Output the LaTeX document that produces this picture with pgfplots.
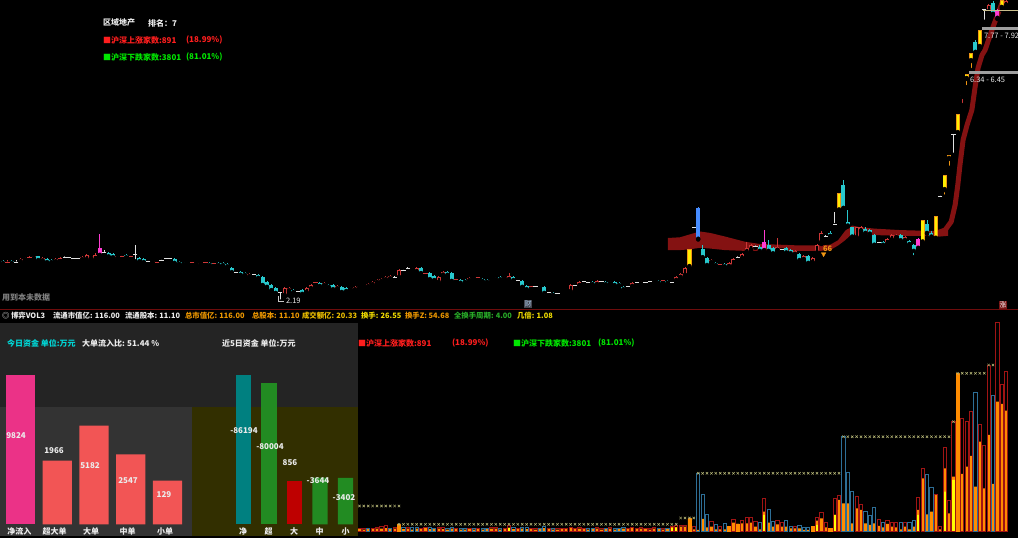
\documentclass[border=0pt]{standalone}
\usepackage{fontspec}
\setmainfont{Noto Sans CJK SC}
\usepackage{pgfplots}
\usepackage{pgfplotstable}
\pgfplotsset{compat=1.18}
\usetikzlibrary{decorations.markings}

\definecolor{cyc}{RGB}{40,200,205}
\definecolor{upr}{RGB}{205,55,55}
\definecolor{dojw}{RGB}{225,225,225}
\definecolor{ylw}{RGB}{255,238,0}
\definecolor{org}{RGB}{240,150,20}
\definecolor{pnk}{RGB}{255,60,210}
\definecolor{blu}{RGB}{70,140,255}
\definecolor{rib}{RGB}{132,18,18}
\definecolor{sep}{RGB}{110,12,12}
\definecolor{volo}{RGB}{255,140,0}
\definecolor{voly}{RGB}{255,255,0}
\definecolor{volr}{RGB}{160,20,20}
\definecolor{volb}{RGB}{45,110,150}
\definecolor{xmk}{RGB}{185,185,120}
\definecolor{pA}{RGB}{36,36,36}
\definecolor{pB}{RGB}{51,51,51}
\definecolor{pC}{RGB}{50,47,0}
\definecolor{barpk}{RGB}{235,50,135}
\definecolor{barsl}{RGB}{242,85,85}
\definecolor{teal5}{RGB}{0,128,128}
\definecolor{grn5}{RGB}{34,139,34}
\definecolor{red5}{RGB}{190,0,0}
\definecolor{lgr}{RGB}{255,30,30}
\definecolor{lgg}{RGB}{0,230,0}
\definecolor{ttc}{RGB}{0,215,215}
\definecolor{txw}{RGB}{235,235,235}
\definecolor{txg}{RGB}{200,200,200}
\definecolor{ior}{RGB}{235,150,0}
\definecolor{iyo}{RGB}{235,190,0}
\definecolor{iyl}{RGB}{240,220,0}
\definecolor{igr}{RGB}{40,170,40}
\definecolor{caibg}{RGB}{70,70,80}
\definecolor{caitx}{RGB}{170,205,235}
\definecolor{zhbg}{RGB}{120,20,20}
\definecolor{beig}{RGB}{200,190,140}

\pgfplotstableread{
i t o h l c
0 1 2.64 2.655 2.61 2.62
1 6 2.63 2.65 2.61 2.63
2 1 2.64 2.65 2.61 2.62
3 2 2.63 2.65 2.61 2.63
4 0 2.63 2.68 2.62 2.67
5 0 2.655 2.69 2.64 2.68
6 6 2.68 2.70 2.66 2.68
7 0 2.67 2.71 2.66 2.70
8 1 2.70 2.71 2.64 2.655
9 0 2.64 2.69 2.63 2.68
10 1 2.67 2.68 2.62 2.63
11 1 2.655 2.67 2.62 2.63
12 0 2.63 2.68 2.62 2.67
13 6 2.67 2.69 2.655 2.67
14 2 2.68 2.70 2.67 2.68
15 2 2.68 2.69 2.67 2.68
16 2 2.67 2.68 2.655 2.67
17 2 2.67 2.68 2.655 2.67
18 0 2.655 2.70 2.64 2.69
19 0 2.655 2.73 2.64 2.72
20 0 2.67 2.71 2.655 2.70
21 0 2.655 2.74 2.64 2.72
22 4 2.72 3.00 2.71 2.81
23 2 2.75 2.78 2.73 2.75
24 1 2.74 2.75 2.69 2.70
25 1 2.73 2.74 2.68 2.69
26 0 2.67 2.71 2.655 2.70
27 6 2.70 2.72 2.69 2.70
28 1 2.72 2.73 2.68 2.69
29 6 2.70 2.72 2.69 2.70
30 2 2.72 2.84 2.64 2.72
31 1 2.68 2.69 2.63 2.64
32 1 2.67 2.68 2.62 2.63
33 2 2.64 2.655 2.63 2.64
34 0 2.62 2.655 2.61 2.64
35 6 2.63 2.64 2.62 2.63
36 2 2.655 2.67 2.64 2.655
37 2 2.67 2.68 2.655 2.67
38 2 2.67 2.68 2.655 2.67
39 1 2.67 2.68 2.61 2.62
40 1 2.63 2.64 2.595 2.61
41 1 2.62 2.63 2.595 2.61
42 0 2.61 2.64 2.595 2.63
43 6 2.62 2.63 2.61 2.62
44 0 2.595 2.63 2.58 2.62
45 0 2.61 2.64 2.595 2.63
46 6 2.62 2.63 2.61 2.62
47 1 2.62 2.63 2.58 2.595
48 6 2.61 2.62 2.595 2.61
49 1 2.62 2.63 2.58 2.595
50 1 2.62 2.63 2.58 2.595
51 1 2.61 2.62 2.57 2.58
52 1 2.56 2.57 2.50 2.51
53 2 2.51 2.52 2.50 2.51
54 1 2.51 2.52 2.47 2.48
55 1 2.50 2.51 2.47 2.48
56 0 2.455 2.50 2.445 2.49
57 2 2.48 2.49 2.47 2.48
58 1 2.48 2.49 2.43 2.445
59 1 2.455 2.47 2.355 2.365
60 1 2.40 2.41 2.335 2.345
61 1 2.365 2.375 2.30 2.31
62 1 2.335 2.345 2.27 2.28
63 2 2.28 2.29 2.19 2.28
64 0 2.25 2.345 2.24 2.335
65 0 2.30 2.345 2.29 2.335
66 1 2.31 2.32 2.28 2.29
67 2 2.30 2.31 2.29 2.30
68 1 2.31 2.32 2.26 2.27
69 0 2.28 2.345 2.27 2.335
70 0 2.32 2.375 2.31 2.365
71 6 2.39 2.40 2.375 2.39
72 1 2.39 2.40 2.345 2.355
73 0 2.355 2.40 2.345 2.39
74 1 2.365 2.375 2.335 2.345
75 1 2.365 2.375 2.31 2.32
76 0 2.32 2.365 2.31 2.355
77 1 2.345 2.355 2.28 2.29
78 1 2.335 2.345 2.29 2.30
79 0 2.31 2.345 2.30 2.335
80 0 2.31 2.355 2.30 2.345
81 0 2.335 2.365 2.32 2.355
82 0 2.345 2.375 2.335 2.365
83 0 2.345 2.39 2.335 2.375
84 0 2.365 2.41 2.355 2.40
85 0 2.39 2.43 2.375 2.42
86 0 2.40 2.445 2.39 2.43
87 0 2.42 2.47 2.41 2.455
88 0 2.43 2.48 2.42 2.47
89 2 2.445 2.47 2.42 2.445
90 0 2.445 2.55 2.43 2.535
91 2 2.535 2.55 2.52 2.535
92 2 2.55 2.57 2.535 2.55
93 0 2.535 2.57 2.52 2.56
94 0 2.51 2.57 2.50 2.56
95 1 2.56 2.57 2.49 2.50
96 6 2.50 2.51 2.49 2.50
97 1 2.50 2.51 2.42 2.43
98 1 2.47 2.48 2.41 2.42
99 0 2.39 2.47 2.375 2.455
100 0 2.47 2.52 2.455 2.51
101 1 2.51 2.52 2.47 2.48
102 1 2.50 2.51 2.40 2.41
103 6 2.43 2.445 2.42 2.43
104 1 2.42 2.43 2.375 2.39
105 1 2.42 2.43 2.39 2.40
106 0 2.41 2.455 2.40 2.445
107 1 2.455 2.47 2.43 2.445
108 6 2.445 2.455 2.43 2.445
109 1 2.43 2.445 2.40 2.41
110 1 2.42 2.43 2.39 2.40
111 0 2.40 2.43 2.39 2.42
112 0 2.42 2.455 2.41 2.445
113 1 2.455 2.47 2.42 2.43
114 0 2.43 2.47 2.42 2.455
115 0 2.42 2.50 2.41 2.47
116 1 2.455 2.47 2.41 2.42
117 2 2.42 2.43 2.41 2.42
118 1 2.41 2.42 2.335 2.345
119 1 2.355 2.365 2.31 2.32
120 6 2.345 2.355 2.335 2.345
121 2 2.345 2.355 2.335 2.345
122 1 2.355 2.365 2.335 2.345
123 1 2.345 2.355 2.24 2.28
124 2 2.28 2.29 2.27 2.28
125 1 2.28 2.29 2.25 2.26
126 2 2.27 2.28 2.26 2.27
127 0 2.27 2.29 2.26 2.28
128 0 2.28 2.30 2.27 2.29
129 0 2.29 2.375 2.28 2.365
130 2 2.365 2.375 2.355 2.365
131 0 2.355 2.41 2.345 2.40
132 2 2.40 2.41 2.39 2.40
133 2 2.39 2.40 2.375 2.39
134 1 2.40 2.41 2.365 2.375
135 0 2.365 2.42 2.355 2.41
136 2 2.40 2.41 2.39 2.40
137 1 2.40 2.41 2.365 2.375
138 0 2.375 2.41 2.365 2.40
139 1 2.40 2.41 2.355 2.365
140 1 2.39 2.40 2.355 2.365
141 1 2.345 2.355 2.31 2.32
142 2 2.345 2.355 2.335 2.345
143 0 2.345 2.40 2.335 2.39
144 2 2.39 2.40 2.375 2.39
145 0 2.375 2.41 2.365 2.40
146 2 2.39 2.40 2.375 2.39
147 2 2.40 2.41 2.39 2.40
148 0 2.39 2.42 2.375 2.41
149 1 2.41 2.42 2.375 2.39
150 6 2.41 2.42 2.40 2.41
151 1 2.41 2.42 2.375 2.39
152 2 2.39 2.40 2.375 2.39
153 0 2.41 2.47 2.40 2.455
154 0 2.445 2.50 2.43 2.49
155 0 2.47 2.57 2.455 2.56
156 3 2.57 2.79 2.56 2.79
157 2 3.09 3.10 3.07 3.09
158 5 2.93 3.40 2.92 3.38
159 1 2.79 2.84 2.68 2.69
160 1 2.68 2.69 2.58 2.595
161 0 2.62 2.67 2.61 2.655
162 1 2.62 2.63 2.58 2.595
163 6 2.595 2.61 2.58 2.595
164 1 2.61 2.62 2.57 2.58
165 0 2.57 2.63 2.56 2.62
166 0 2.58 2.68 2.57 2.67
167 2 2.68 2.70 2.67 2.68
168 0 2.67 2.74 2.655 2.73
169 0 2.75 2.88 2.74 2.81
170 0 2.78 2.86 2.77 2.85
171 2 2.82 2.84 2.81 2.82
172 1 2.82 2.84 2.75 2.77
173 4 2.78 3.05 2.77 2.88
174 1 2.84 2.91 2.75 2.77
175 1 2.81 2.82 2.73 2.74
176 0 2.77 2.94 2.75 2.82
177 2 2.79 2.81 2.78 2.79
178 1 2.81 2.82 2.74 2.75
179 1 2.78 2.79 2.73 2.74
180 0 2.72 2.78 2.70 2.77
181 1 2.73 2.74 2.64 2.655
182 0 2.655 2.72 2.64 2.70
183 1 2.70 2.72 2.61 2.62
184 0 2.62 2.69 2.61 2.68
185 0 2.74 2.86 2.73 2.85
186 0 2.88 3.03 2.86 3.01
187 2 2.96 2.98 2.94 2.96
188 1 3.01 3.03 2.96 2.97
189 2 3.13 3.31 3.12 3.13
190 3 3.34 3.62 3.30 3.62
191 1 3.76 3.85 3.36 3.38
192 1 3.16 3.35 3.10 3.115
193 1 3.09 3.10 2.94 2.96
194 0 2.94 3.10 2.93 3.09
195 0 3.03 3.115 3.01 3.10
196 1 3.07 3.09 3.00 3.01
197 1 3.05 3.07 2.98 3.00
198 1 2.98 3.00 2.84 2.85
199 2 2.88 2.89 2.86 2.88
200 1 2.89 2.90 2.84 2.85
201 0 2.86 2.94 2.85 2.93
202 0 2.91 3.00 2.90 2.98
203 0 2.94 3.00 2.93 2.98
204 1 2.98 3.00 2.90 2.91
205 0 2.90 2.97 2.89 2.96
206 1 2.90 2.91 2.85 2.86
207 1 2.85 2.86 2.69 2.77
208 4 2.81 2.94 2.79 2.93
209 3 2.88 3.20 2.86 3.20
210 1 3.13 3.20 3.00 3.01
211 1 3.01 3.03 2.94 2.96
212 3 2.93 3.25 2.92 3.25
213 2 3.57 3.59 3.55 3.57
214 3 3.67 3.94 3.56 3.94
215 3 4.24 4.32 4.07 4.32
216 2 4.74 4.76 4.32 4.74
217 3 4.78 5.22 4.76 5.22
218 0 5.65 5.73 5.44 5.70
219 3 6.14 6.29 5.91 6.29
220 3 6.67 6.93 6.40 6.93
221 1 7.28 7.35 6.93 6.96
222 3 7.12 7.70 7.05 7.70
223 2 8.45 8.50 8.00 8.45
224 0 8.37 8.70 8.30 8.65
225 1 8.73 8.80 8.26 8.30
226 4 8.15 8.50 8.10 8.45
227 3 8.53 8.85 8.45 8.85
228 0 8.62 8.85 8.55 8.80
}\candles

\pgfplotstableread{
x p
151.1 2.94
153.9 2.95
156.1 2.99
158.4 3.03
160.7 3.01
164.1 2.96
168.6 2.89
172.0 2.86
176.6 2.85
181.1 2.84
185.7 2.84
188.0 2.85
189.8 2.91
191.4 3.04
193.0 3.115
194.8 3.09
198.2 3.07
203.9 3.05
209.5 3.04
212.9 3.04
214.8 3.10
214.8 2.97
212.9 2.96
209.5 2.97
203.9 2.97
198.2 2.98
194.8 3.00
193.0 3.00
191.4 2.91
189.8 2.84
188.0 2.78
185.7 2.77
181.1 2.77
176.6 2.77
172.0 2.77
168.6 2.77
164.1 2.78
160.7 2.80
158.4 2.81
156.1 2.79
153.9 2.78
151.1 2.78
}\ribbon

\pgfplotstableread{
x p
211.8 3.00
214.1 3.05
215.5 3.17
216.4 3.43
217.0 3.76
217.5 4.13
218.2 4.63
219.1 4.96
220.2 5.32
220.9 5.89
221.6 6.46
222.5 6.86
223.2 7.02
225.0 7.81
227.3 8.85
}\ribline

\pgfplotstableread{
i v m yl t
81 3.5 2.5 0 0
82 3.0 2.0 0 0
83 3.5 2.5 0 1
84 3.0 2.5 0 0
85 4.0 3.0 0 0
86 5.0 3.0 0 0
87 6.0 3.5 0 0
88 3.5 2.5 0 1
89 4.0 3.0 0 0
90 7.4 7.4 0 2
91 4.0 2.5 0 1
92 4.5 3.0 0 0
93 4.0 2.0 0 1
94 4.5 3.0 0 1
95 3.5 2.5 0 0
96 4.5 3.5 0 0
97 4.0 2.5 0 1
98 3.5 2.5 0 1
99 4.5 3.0 0 0
100 4.0 2.5 0 0
101 3.5 2.0 0 1
102 4.0 3.0 0 1
103 3.5 2.5 0 0
104 3.5 2.0 0 1
105 3.0 2.0 0 1
106 3.5 2.5 0 0
107 3.0 2.0 0 1
108 3.5 2.5 0 0
109 3.0 2.0 0 1
110 3.5 2.5 0 1
111 4.0 3.0 0 0
112 4.5 3.0 0 0
113 3.5 2.0 0 1
114 3.5 2.5 0 0
115 6.0 4.0 3.5 0
116 4.0 2.5 0 1
117 3.5 2.5 0 0
118 4.5 3.0 0 1
119 4.0 2.5 0 1
120 3.5 2.5 0 0
121 3.0 2.0 0 0
122 3.5 2.5 0 1
123 5.0 3.5 0 1
124 3.5 2.5 0 0
125 3.5 2.0 0 1
126 3.0 2.0 0 0
127 3.5 2.5 0 0
128 3.0 2.5 0 0
129 4.5 3.5 0 0
130 3.5 2.5 0 0
131 4.0 3.0 0 0
132 3.5 2.5 0 0
133 3.0 2.0 0 1
134 3.5 2.5 0 1
135 4.0 3.0 0 0
136 3.0 2.0 0 0
137 3.5 2.5 0 1
138 4.0 3.0 0 0
139 3.5 2.0 0 1
140 3.5 2.5 0 1
141 4.0 3.0 0 1
142 3.5 2.5 0 0
143 4.5 3.5 0 0
144 3.5 2.5 0 0
145 4.0 3.0 0 0
146 3.5 2.5 0 0
147 3.0 2.0 0 0
148 4.0 3.0 0 0
149 3.5 2.5 0 1
150 3.0 2.0 0 0
151 3.5 2.5 0 1
152 5.5 4.5 3.5 0
153 6.5 4.5 4.0 0
154 6.7 5.0 0 0
155 6.7 5.0 0 0
156 13.4 13.4 0 2
157 5.0 2.4 0 0
158 58.4 1.7 0 1
159 37.7 12.7 0 1
160 17.7 4.4 0 1
161 10.0 5.0 0 0
162 7.4 2.4 0 1
163 5.0 2.4 0 0
164 8.4 2.4 0 1
165 5.0 5.0 0 2
166 12.7 9.0 0 0
167 7.7 7.7 0 2
168 11.7 8.4 0 0
169 14.4 8.4 0 0
170 14.4 9.0 0 0
171 10.0 5.0 0 0
172 9.4 2.4 0 1
173 33.4 20.0 16.7 0
174 22.4 9.0 0 1
175 10.7 5.0 0 1
176 11.7 7.4 0 0
177 9.0 5.0 0 0
178 11.0 5.0 0 1
179 5.7 3.4 0 1
180 5.7 3.4 0 0
181 6.0 3.4 0 1
182 4.4 1.7 0 1
183 4.4 1.7 0 1
184 5.0 5.0 0 2
185 14.4 11.0 6.7 0
186 19.0 13.4 0 0
187 9.0 4.4 0 0
188 3.4 3.4 0 2
189 33.4 16.7 16.7 0
190 36.7 31.7 0 0
191 95.0 28.4 0 1
192 59.4 28.4 0 1
193 40.0 8.4 0 1
194 35.7 23.4 0 0
195 27.4 21.7 0 0
196 20.0 8.4 0 1
197 16.7 6.7 0 1
198 24.4 8.4 0 1
199 12.4 5.7 0 0
200 9.0 4.4 0 1
201 11.7 7.7 0 0
202 9.0 5.0 0 0
203 9.0 4.4 0 0
204 9.0 2.4 0 1
205 9.0 5.0 0 0
206 9.0 2.4 0 1
207 11.0 5.0 0 1
208 34.4 21.7 16.7 0
209 63.4 53.4 0 0
210 57.4 17.4 0 1
211 44.4 20.0 0 1
212 37.7 36.7 0 0
213 5.7 2.4 0 0
214 84.0 63.4 40.0 0
215 31.0 18.4 0 0
216 110.0 55.0 51.7 0
217 158.4 158.4 0 2
218 113.4 57.7 0 0
219 110.0 65.0 0 0
220 120.7 75.7 0 0
221 139.0 45.0 0 1
222 107.4 90.0 0 0
223 86.0 43.4 0 0
224 166.7 96.7 0 0
225 136.7 47.7 0 1
226 209.7 130.0 0 0
227 147.7 127.7 0 0
228 160.0 121.0 0 0
}\vol

\pgfplotstableread{
k v
0 9824
1 1966
2 5182
3 2547
4 129
}\today

\pgfplotstableread{
k v
0 -86194
1 -80004
2 856
3 -3644
4 -3402
}\fiveday

\pgfplotsset{
  panel/.style={scale only axis, axis lines=none, ticks=none, anchor=south west, clip=true, clip bounding box=upper bound},
  eb/.style 2 args={only marks, mark=none,
    /pgfplots/error bars/y dir=plus, /pgfplots/error bars/y explicit,
    /pgfplots/error bars/error mark=none,
    /pgfplots/error bars/error bar style={line width=#2, color=#1}},
  ty/.style={restrict expr to domain={\thisrow{t}}{#1:#1}},
  xl/.style={color=black, line width=0.01pt, mark=none, postaction={decorate},
    decoration={markings, mark=between positions 0 and 1 step 4.4pt with {\draw[xmk, line width=0.5pt] (-1.2pt,-1.2pt) -- (1.2pt,1.2pt) (-1.2pt,1.2pt) -- (1.2pt,-1.2pt);}}},
  vb/.style={ybar, bar shift=0pt}
}
\newcommand{\cwick}[2]{\addplot[ty=#1, eb={#2}{0.9pt}] table[x=i, y expr=ln(\thisrow{l}), y error plus expr={ln(\thisrow{h})-ln(\thisrow{l})}]{\candles};}
\newcommand{\cbody}[3]{\addplot[ty=#1, eb={#2}{#3}] table[x=i, y expr={ln(min(\thisrow{o},\thisrow{c}))}, y error plus expr={max(abs(ln(\thisrow{c})-ln(\thisrow{o})),0.006)}]{\candles};}
\newcommand{\cinner}[3]{\addplot[ty=#1, eb={#2}{#3}] table[x=i, y expr={ln(min(\thisrow{o},\thisrow{c}))+0.0045}, y error plus expr={max(abs(ln(\thisrow{c})-ln(\thisrow{o}))-0.009,0)}]{\candles};}
\newcommand{\cdoji}[2]{\addplot[ty=#1, only marks, mark=-, mark size=2.1pt, color=#2, mark options={line width=1pt}] table[x=i, y expr=ln(\thisrow{c})]{\candles};}

\tikzset{t/.style={inner sep=0pt, outer sep=0pt, anchor=west, font=\fontsize{8}{9}\selectfont\bfseries},
  ti/.style={inner sep=0pt, outer sep=0pt, anchor=west, font=\fontsize{7.4}{9}\selectfont\bfseries},
  tb/.style={inner sep=0pt, outer sep=0pt, font=\fontsize{8}{9}\selectfont\bfseries}}

\begin{document}
\begin{tikzpicture}[x=1pt, y=1pt]
\fill[black] (0,0) rectangle (1018,538);

% ---------------- price panel ----------------
\begin{axis}[panel, at={(0pt,229pt)}, width=1018pt, height=309pt,
  xmin=-0.682, xmax=230.68, ymin=0.7497, ymax=2.1802]
\addplot[fill=rib, draw=none] table[x=x, y expr=ln(\thisrow{p})]{\ribbon};
\addplot[rib, line width=5pt, line join=round, mark=none] table[x=x, y expr=ln(\thisrow{p})]{\ribline};
\cwick{0}{upr}
\cwick{1}{cyc}
\cwick{2}{dojw}
\cwick{3}{org}
\cwick{4}{pnk}
\cwick{5}{blu}
\cwick{6}{upr}
\cbody{0}{upr}{4.0pt}
\cinner{0}{black}{2.2pt}
\cbody{1}{cyc}{4.0pt}
\cbody{3}{org}{4.2pt}
\cinner{3}{ylw}{2.4pt}
\cbody{4}{pnk}{4.0pt}
\cbody{5}{blu}{4.4pt}
\cdoji{2}{dojw}
\cdoji{6}{upr}
\addplot[only marks, mark=triangle*, mark size=2.6pt, org, mark options={rotate=180}] coordinates {(186.5,1.0043)};
\end{axis}

\draw[sep, line width=0.8pt] (0,228.7) -- (1018,228.7);

% ---------------- volume panel ----------------
\begin{axis}[panel, at={(0pt,6.3pt)}, width=1018pt, height=209.7pt,
  xmin=-0.682, xmax=230.68, ymin=0, ymax=209.7]
\addplot[vb, bar width=0.62, fill=volo, draw=none] table[x=i, y=m]{\vol};
\addplot[vb, bar width=0.62, fill=voly, draw=none, restrict expr to domain={\thisrow{yl}}{0.1:1000}] table[x=i, y=yl]{\vol};
\addplot[vb, bar width=0.72, fill=none, draw=volr, line width=0.8pt, ty=0] table[x=i, y=v]{\vol};
\addplot[vb, bar width=0.72, fill=none, draw=volb, line width=0.8pt, ty=1] table[x=i, y=v]{\vol};
\addplot[vb, bar width=0.72, fill=volo, draw=volo, line width=0.4pt, ty=2] table[x=i, y=v]{\vol};
\addplot[xl] coordinates {(81,25.7) (90,25.7)};
\addplot[xl] coordinates {(90,7.4) (153,7.4)};
\addplot[xl] coordinates {(154,13.7) (157,13.7)};
\addplot[xl] coordinates {(158,58.4) (190,58.4)};
\addplot[xl] coordinates {(191,95) (215,95)};
\addplot[xl] coordinates {(216,110) (216.02,110)};
\addplot[xl] coordinates {(217,158.4) (223,158.4)};
\addplot[xl] coordinates {(224,166.7) (225,166.7)};
\end{axis}

% ---------------- fund-flow overlay panel ----------------
\fill[pA] (0,2) rectangle (358,215);
\fill[pB] (0,2) rectangle (192,131);
\fill[pC] (192,2) rectangle (358,131);

\begin{axis}[panel, at={(0pt,13.7pt)}, width=192pt, height=162.3pt,
  xmin=-0.558, xmax=4.667, ymin=0, ymax=14890]
\addplot[vb, bar width=0.79, fill=barpk, draw=none, restrict expr to domain={\thisrow{k}}{0:0}] table[x=k, y expr=\thisrow{v}+3871]{\today};
\addplot[vb, bar width=0.79, fill=barsl, draw=none, restrict expr to domain={\thisrow{k}}{1:4}] table[x=k, y expr=\thisrow{v}+3871]{\today};
\end{axis}

\begin{axis}[panel, at={(192pt,13.7pt)}, width=166pt, height=162.3pt,
  xmin=-2.02, xmax=4.49, ymin=0, ymax=130676]
\addplot[vb, bar width=0.59, fill=teal5, draw=none, restrict expr to domain={\thisrow{k}}{0:0}] table[x=k, y expr=abs(\thisrow{v})+33977]{\fiveday};
\addplot[vb, bar width=0.59, fill=grn5, draw=none, restrict expr to domain={\thisrow{k}}{1:1}] table[x=k, y expr=abs(\thisrow{v})+33977]{\fiveday};
\addplot[vb, bar width=0.59, fill=red5, draw=none, restrict expr to domain={\thisrow{k}}{2:2}] table[x=k, y expr=abs(\thisrow{v})+33977]{\fiveday};
\addplot[vb, bar width=0.59, fill=grn5, draw=none, restrict expr to domain={\thisrow{k}}{3:4}] table[x=k, y expr=abs(\thisrow{v})+33977]{\fiveday};
\end{axis}

\node[tb, txw] at (16,102) {9824};
\node[tb, txw] at (54,87) {1966};
\node[tb, txw] at (90,72) {5182};
\node[tb, txw] at (128,57) {2547};
\node[tb, txw] at (164,43) {129};
\node[tb, txw] at (244,107) {-86194};
\node[tb, txw] at (270,91) {-80004};
\node[tb, txw] at (290,75) {856};
\node[tb, txw] at (318,57) {-3644};
\node[tb, txw] at (344,40) {-3402};
\foreach \xx/\ll in {19.5/净流入, 54.5/超大单, 91/大单, 127.5/中单, 165/小单, 243/净, 268.5/超, 294/大, 319.5/中, 345.5/小}
  \node[tb, txw] at (\xx,6.5) {\ll};
\node[t, ttc] at (7,195) {今日资金 单位:万元};
\node[t, txw] at (82,195) {大单流入比: 51.44 \%};
\node[t, txw] at (222,195) {近5日资金 单位:万元};
\node[t, lgr] at (358,195) {■沪深上涨家数:891};
\node[t, lgr] at (452,195) {(18.99\%)};
\node[t, lgg] at (513,195) {■沪深下跌家数:3801};
\node[t, lgg] at (598,195) {(81.01\%)};

\node[ti, txg] at (2,222) {◎};
\node[ti, txw] at (11,222) {博弈VOL3};
\node[ti, txw] at (53,222) {流通市值亿: 116.00};
\node[ti, txw] at (125,222) {流通股本: 11.10};
\node[ti, ior] at (185,222) {总市值亿: 116.00};
\node[ti, ior] at (252,222) {总股本: 11.10};
\node[ti, iyo] at (302,222) {成交额亿: 20.33};
\node[ti, iyl] at (361,222) {换手: 26.55};
\node[ti, ior] at (405,222) {换手Z: 54.68};
\node[ti, igr] at (454,222) {全换手周期: 4.00};
\node[ti, iyl] at (517,222) {几倍: 1.08};

\node[t, txw] at (103,515) {区域地产};
\node[t, txw] at (148,515) {排名：7};
\node[t, lgr] at (103,498) {■沪深上涨家数:891};
\node[t, lgr] at (186,498) {(18.99\%)};
\node[t, lgg] at (103,481) {■沪深下跌家数:3801};
\node[t, lgg] at (186,481) {(81.01\%)};

\node[t, gray] at (2,241) {用到本未数据};
\draw[txg, line width=0.6pt] (278.5,242) -- (278.5,237) -- (284,237);
\node[t, txw, font=\fontsize{7.5}{8}\selectfont] at (286,237.5) {2.19};
\node[inner sep=0.6pt, fill=caibg, text=caitx, font=\fontsize{7}{8}\selectfont] at (528,234) {财};
\node[inner sep=0.6pt, fill=zhbg, text=white, font=\fontsize{7}{8}\selectfont] at (1003,233) {涨};
\node[t, org, font=\fontsize{7.5}{8}\selectfont\bfseries] at (823,289.5) {66};
\fill[gray!75] (982,508) rectangle (1018,511);
\node[t, txw, font=\fontsize{7.5}{8}\selectfont] at (984,502) {7.77 - 7.92};
\fill[gray!75] (969,464) rectangle (1018,467);
\node[t, txw, font=\fontsize{7.5}{8}\selectfont] at (970,458) {6.34 - 6.45};
\draw[beig, line width=0.5pt] (983,528) -- (1018,528);
\pgfresetboundingbox
\useasboundingbox (0,0) rectangle (1018,538);
\end{tikzpicture}
\end{document}
